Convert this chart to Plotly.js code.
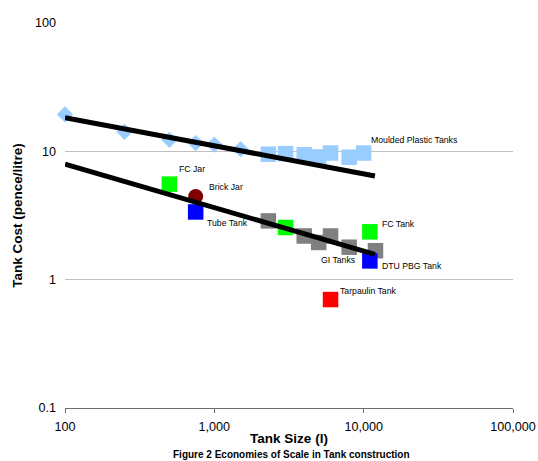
<!DOCTYPE html>
<html>
<head>
<meta charset="utf-8">
<script src="https://cdn.plot.ly/plotly-3.0.1.min.js"></script>
<style>html,body{margin:0;padding:0;background:#fff;}#chart{width:538px;height:461px;}</style>
</head>
<body>
<div id="chart"></div>
<script>
// ---- data ----
const mouldedDiamondSize = [100, 250, 500, 750, 1000, 1500];
const mouldedDiamondCost = [19.4, 14.2, 12.3, 11.6, 11.3, 10.4];
const mouldedSquareSize = [2300, 3000, 4000, 5000, 6000, 8000, 10000];
const mouldedSquareCost = [9.5, 9.6, 9.4, 9.05, 9.7, 9.0, 9.7];
const giSize = [2300, 4000, 5000, 6000, 8000, 12000];
const giCost = [2.87, 2.19, 1.95, 2.19, 1.79, 1.68];
const fcSize = [500, 3000, 11000];
const fcCost = [5.55, 2.55, 2.36];
const blueSize = [750, 11000];        // Tube Tank, DTU PBG Tank
const blueCost = [3.37, 1.40];
const brickSize = [750];
const brickCost = [4.45];
const tarpSize = [6000];
const tarpCost = [0.70];
const trendUpperSize = [100, 11900];
const trendUpperCost = [18.3, 6.42];
const trendLowerSize = [100, 11900];
const trendLowerCost = [7.93, 1.576];

const xTickVals = [100, 1000, 10000, 100000];
const xTickText = ['100', '1,000', '10,000', '100,000'];
const yTickVals = [0.1, 1, 10, 100];
const yTickText = ['0.1', '1', '10', '100'];

const FONT = 'Arial, "Liberation Sans", sans-serif';

function sq(x, y, color, size) {
  return {x: x, y: y, type: 'scatter', mode: 'markers', hoverinfo: 'skip', cliponaxis: false,
    marker: {symbol: 'square', size: size || 15.5, color: color, line: {width: 0}}};
}

const traces = [
  {x: mouldedDiamondSize, y: mouldedDiamondCost, type: 'scatter', mode: 'markers', cliponaxis: false,
   marker: {symbol: 'diamond', size: 12.5, color: '#99CCFF', line: {width: 0}}},
  sq(mouldedSquareSize, mouldedSquareCost, '#99CCFF'),
  sq(giSize, giCost, '#808080'),
  sq(fcSize, fcCost, '#00FF00'),
  sq(blueSize, blueCost, '#0000FF'),
  {x: brickSize, y: brickCost, type: 'scatter', mode: 'markers', cliponaxis: false,
   marker: {symbol: 'circle', size: 15, color: '#800000', line: {width: 0}}},
  sq(tarpSize, tarpCost, '#FF0000'),
  {x: trendUpperSize, y: trendUpperCost, type: 'scatter', mode: 'lines', cliponaxis: false,
   line: {color: '#000000', width: 5}},
  {x: trendLowerSize, y: trendLowerCost, type: 'scatter', mode: 'lines', cliponaxis: false,
   line: {color: '#000000', width: 5}}
];

function lab(text, xl, yl) {
  return {text: text, x: xl, y: yl, xref: 'x', yref: 'y', showarrow: false,
    xanchor: 'left', yanchor: 'middle', font: {family: FONT, size: 8.7, color: '#000'}};
}

const layout = {
  width: 538, height: 461,
  margin: {l: 65, r: 25, t: 23, b: 53},
  paper_bgcolor: '#ffffff', plot_bgcolor: '#ffffff',
  showlegend: false,
  font: {family: FONT, color: '#000'},
  xaxis: {
    type: 'log', range: [2, 5],
    tickvals: xTickVals, ticktext: xTickText,
    tickfont: {family: FONT, size: 12.6, color: '#000'},
    showgrid: false, zeroline: false,
    showline: true, linecolor: '#6e6e6e', linewidth: 1,
    ticks: 'outside', ticklen: 4, tickcolor: '#6e6e6e',
    ticklabelstandoff: 3,
    title: {text: '<b>Tank Size (l)</b>', font: {family: FONT, size: 13.5, color: '#000'}, standoff: 0}
  },
  yaxis: {
    type: 'log', range: [-1, 2],
    tickvals: yTickVals, ticktext: yTickText,
    tickfont: {family: FONT, size: 12.6, color: '#000'},
    showgrid: true, gridcolor: '#c0c0c0', gridwidth: 1,
    zeroline: false, showline: false, ticks: '',
    ticklabelstandoff: 8,
    title: {text: '<b>Tank Cost (pence/litre)</b>', font: {family: FONT, size: 13.5, color: '#000'}, standoff: 9}
  },
  annotations: [
    lab('Moulded Plastic Tanks', 4.036, 1.088),
    lab('FC Jar', 2.752, 0.860),
    lab('Brick Jar', 2.953, 0.720),
    lab('Tube Tank', 2.9375, 0.439),
    lab('GI Tanks', 3.703, 0.153),
    lab('FC Tank', 4.109, 0.434),
    lab('DTU PBG Tank', 4.109, 0.1065),
    lab('Tarpaulin Tank', 3.830, -0.088),
    {text: '<b>Figure 2 Economies of Scale in Tank construction</b>', xref: 'paper', yref: 'paper',
     x: 0.505, y: -53 / 385, xanchor: 'center', yanchor: 'bottom', showarrow: false, borderpad: 0,
     font: {family: FONT, size: 10, color: '#000'}}
  ]
};

Plotly.newPlot('chart', traces, layout, {staticPlot: true, displayModeBar: false});
</script>
</body>
</html>
